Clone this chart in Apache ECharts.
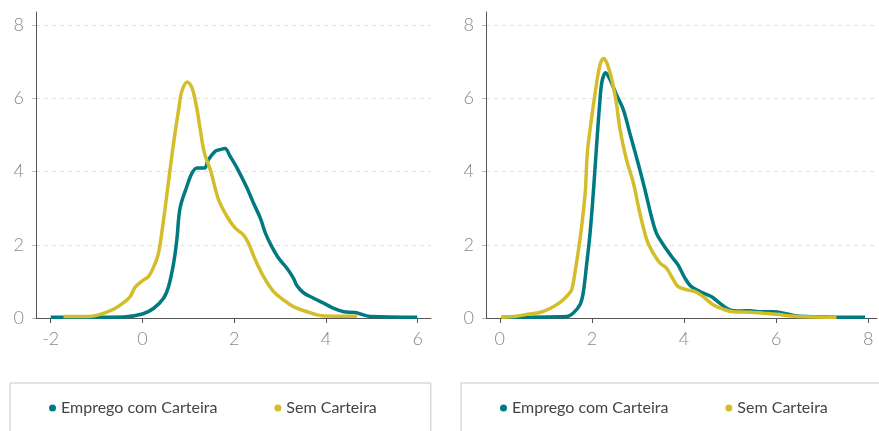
<!DOCTYPE html>
<html>
<head>
<meta charset="utf-8">
<script src="https://cdn.jsdelivr.net/npm/echarts@6/dist/echarts.min.js"></script>
<style>
html,body{margin:0;padding:0;background:#fff;}
#c{width:879px;height:431px;}
</style>
</head>
<body>
<div id="c"></div>
<script>
// Series names
const seriesNames = ['Emprego com Carteira', 'Sem Carteira'];

// Left panel – Emprego com Carteira
const leftEmpregoX = [-2.0,-0.41,0,0.24,0.46,0.57,0.68,0.75,0.82,0.97,1.08,1.19,1.35,1.44,1.59,1.69,1.8,1.91,2.06,2.28,2.42,2.57,2.68,2.82,2.97,3.15,3.29,3.37,3.51,3.73,3.99,4.17,4.39,4.64,4.97,5.99];
const leftEmpregoY = [0.02,0.03,0.11,0.26,0.54,0.86,1.5,2.14,3.0,3.6,3.96,4.1,4.1,4.33,4.56,4.6,4.63,4.42,4.1,3.55,3.14,2.73,2.32,1.95,1.63,1.36,1.09,0.88,0.69,0.54,0.38,0.26,0.17,0.15,0.04,0.02];

// Left panel – Sem Carteira
const leftSemX = [-1.72,-1.18,-0.92,-0.63,-0.41,-0.27,-0.16,-0.01,0.13,0.25,0.35,0.46,0.57,0.68,0.79,0.86,0.98,1.08,1.19,1.26,1.35,1.48,1.66,1.84,2.02,2.2,2.31,2.46,2.64,2.86,3.08,3.29,3.59,3.91,4.17,4.68];
const leftSemY = [0.04,0.04,0.1,0.24,0.42,0.58,0.84,1.01,1.13,1.41,1.77,2.68,3.74,4.79,5.7,6.2,6.45,6.29,5.7,5.15,4.51,4.05,3.23,2.78,2.46,2.27,2.05,1.59,1.13,0.72,0.49,0.31,0.17,0.06,0.05,0.05];

// Right panel – Emprego com Carteira
const rightEmpregoX = [0.04,1.45,1.59,1.74,1.81,1.88,1.96,2.03,2.1,2.17,2.22,2.3,2.39,2.53,2.68,2.82,3.0,3.15,3.29,3.4,3.55,3.73,3.87,4.02,4.16,4.42,4.6,4.78,5.0,5.21,5.43,5.65,5.94,6.23,6.52,7.93];
const rightEmpregoY = [0.02,0.04,0.13,0.36,0.68,1.41,2.32,3.42,4.69,5.88,6.47,6.7,6.52,6.11,5.7,5.06,4.24,3.51,2.78,2.32,2.0,1.68,1.45,1.09,0.86,0.68,0.58,0.4,0.22,0.19,0.2,0.17,0.17,0.11,0.05,0.02];

// Right panel – Sem Carteira
const rightSemX = [0.04,0.36,0.65,0.87,1.09,1.3,1.48,1.56,1.63,1.74,1.81,1.86,1.87,1.9,1.96,2.06,2.17,2.25,2.32,2.43,2.53,2.61,2.75,2.9,3.04,3.19,3.33,3.48,3.62,3.77,3.87,4.06,4.24,4.42,4.63,4.85,5.07,5.43,5.72,6.01,6.44,7.31];
const rightSemY = [0.02,0.05,0.11,0.15,0.26,0.42,0.63,0.77,1.23,2.14,2.87,3.51,3.78,4.51,5.15,6.06,6.89,7.09,6.98,6.52,5.88,5.15,4.33,3.69,2.87,2.14,1.77,1.5,1.36,1.04,0.86,0.77,0.72,0.58,0.36,0.24,0.17,0.16,0.13,0.1,0.04,0.02];

// Tick labels
const leftXTicks = [-2, 0, 2, 4, 6];
const rightXTicks = [0, 2, 4, 6, 8];
const yTicks = [0, 2, 4, 6, 8];

const zip = (xs, ys) => xs.map((x, i) => [x, ys[i]]);

const TEAL = '#007A80';
const YELLOW = '#D4BD2A';
const FONT = 'Lato, "Open Sans", sans-serif';

const chart = echarts.init(document.getElementById('c'));

function xAxis(gridIndex, min, max, ticks) {
  return {
    type: 'value', gridIndex, min, max,
    axisLine: { show: true, onZero: false, lineStyle: { color: '#555', width: 1 } },
    axisTick: { show: true, customValues: ticks, length: 5, lineStyle: { color: '#555' } },
    axisLabel: { customValues: ticks, color: '#888', fontSize: 18, fontWeight: 300, fontFamily: FONT, margin: 12 },
    splitLine: { show: false }
  };
}
function yAxis(gridIndex) {
  return {
    type: 'value', gridIndex, min: 0, max: 8.36,
    axisLine: { show: true, onZero: false, lineStyle: { color: '#555', width: 1 } },
    axisTick: { show: true, customValues: yTicks, length: 4, lineStyle: { color: '#bbb' } },
    axisLabel: { customValues: yTicks, color: '#888', fontSize: 18, fontWeight: 300, fontFamily: FONT, margin: 12 },
    splitLine: { show: true, lineStyle: { color: '#e2e2e2', type: [4, 4], width: 1 } }
  };
}
function line(name, color, xi, data) {
  return {
    name, type: 'line', xAxisIndex: xi, yAxisIndex: xi,
    data, smooth: 0.35, showSymbol: false, symbol: 'none',
    lineStyle: { color, width: 3.5 }, itemStyle: { color },
    z: name === 'Sem Carteira' ? 3 : 2, animation: false
  };
}
function legend(left, padRight) {
  return {
    left, top: 383, width: 360, orient: 'horizontal',
    data: seriesNames,
    icon: 'circle', itemWidth: 7, itemHeight: 7, itemGap: 57,
    textStyle: { color: '#444', fontSize: 16, fontFamily: FONT, padding: [0, 0, 0, 0] },
    borderColor: '#c8c8c8', borderWidth: 1,
    padding: [17, padRight, 40, 39],
    selectedMode: false
  };
}

chart.setOption({
  animation: false,
  grid: [
    { left: 36, right: 448, top: 12, bottom: 113 },
    { left: 486, right: 2, top: 12, bottom: 113 }
  ],
  xAxis: [xAxis(0, -2.32, 6.29, leftXTicks), xAxis(1, -0.3, 8.19, rightXTicks)],
  yAxis: [yAxis(0), yAxis(1)],
  legend: [legend(10, 54), legend(461, 60)],
  series: [
    line('Emprego com Carteira', TEAL, 0, zip(leftEmpregoX, leftEmpregoY)),
    line('Sem Carteira', YELLOW, 0, zip(leftSemX, leftSemY)),
    line('Emprego com Carteira', TEAL, 1, zip(rightEmpregoX, rightEmpregoY)),
    line('Sem Carteira', YELLOW, 1, zip(rightSemX, rightSemY))
  ]
});
</script>
</body>
</html>
